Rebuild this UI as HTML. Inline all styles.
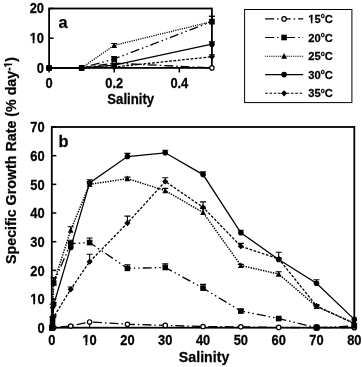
<!DOCTYPE html>
<html><head><meta charset="utf-8"><style>
html,body{margin:0;padding:0;background:#fff;width:362px;height:367px;overflow:hidden}
svg{display:block;will-change:transform}
text{font-family:"Liberation Sans", sans-serif;font-weight:bold;fill:#000;stroke:#000;stroke-width:0.25px}
</style></head><body>
<svg width="362" height="367" viewBox="0 0 362 367">
<rect x="49.1" y="8.5" width="162.80" height="59.40" fill="none" stroke="#000" stroke-width="1.8"/>
<path d="M49.1 67.90H53.60" stroke="#000" stroke-width="1.5"/>
<text transform="translate(44.00 72.50) scale(1 1.07)" font-size="12.9" text-anchor="end" >0</text>
<path d="M49.1 38.20H53.60" stroke="#000" stroke-width="1.5"/>
<g transform="translate(44.00 42.80) scale(1 1.07)"><text id="t1" font-size="12.9" text-anchor="end" >10</text><rect x="-14.22" y="-2.32" width="2.87" height="3.22" fill="#fff"/><rect x="-9.52" y="-2.32" width="2.48" height="3.22" fill="#fff"/></g>
<path d="M49.1 8.50H53.60" stroke="#000" stroke-width="1.5"/>
<text transform="translate(44.00 13.10) scale(1 1.07)" font-size="12.9" text-anchor="end" >20</text>
<path d="M49.10 67.9V72.40" stroke="#000" stroke-width="1.5"/>
<text transform="translate(49.10 87.70) scale(1 1.07)" font-size="12.9" text-anchor="middle" >0</text>
<path d="M114.22 67.9V72.40" stroke="#000" stroke-width="1.5"/>
<text transform="translate(114.22 87.70) scale(1 1.07)" font-size="12.9" text-anchor="middle" >0.2</text>
<path d="M179.34 67.9V72.40" stroke="#000" stroke-width="1.5"/>
<text transform="translate(179.34 87.70) scale(1 1.07)" font-size="12.9" text-anchor="middle" >0.4</text>
<text transform="translate(130.70 104.40) scale(1 1.07)" font-size="13.2" text-anchor="middle" >Salinity</text>
<text transform="translate(58.50 28.40) scale(1 1.0)" font-size="16.3" text-anchor="start" >a</text>
<polyline points="49.10,67.90 81.66,67.90 114.22,63.15 211.90,67.90" fill="none" stroke="#000" stroke-width="1.3" stroke-dasharray="9 3 1.5 3"/>
<circle cx="49.10" cy="67.90" r="2.20" fill="#fff" stroke="#000" stroke-width="1.2"/>
<circle cx="81.66" cy="67.90" r="2.20" fill="#fff" stroke="#000" stroke-width="1.2"/>
<circle cx="114.22" cy="63.15" r="2.20" fill="#fff" stroke="#000" stroke-width="1.2"/>
<circle cx="211.90" cy="67.90" r="2.20" fill="#fff" stroke="#000" stroke-width="1.2"/>
<polyline points="49.10,67.90 81.66,67.90 114.22,67.01 211.90,56.76" fill="none" stroke="#000" stroke-width="1.3" stroke-dasharray="2.7 1.6"/>
<path d="M211.90 54.83V56.76M208.90 54.83H214.90" stroke="#000" stroke-width="1.1" fill="none"/>
<path d="M49.10 64.80L52.20 67.90L49.10 71.00L46.00 67.90Z" fill="#000"/>
<path d="M81.66 64.80L84.76 67.90L81.66 71.00L78.56 67.90Z" fill="#000"/>
<path d="M114.22 63.91L117.32 67.01L114.22 70.11L111.12 67.01Z" fill="#000"/>
<path d="M211.90 53.66L215.00 56.76L211.90 59.86L208.80 56.76Z" fill="#000"/>
<polyline points="49.10,67.90 81.66,67.90 114.22,65.23 211.90,44.14" fill="none" stroke="#000" stroke-width="1.3"/>
<path d="M211.90 41.91V44.14M208.90 41.91H214.90" stroke="#000" stroke-width="1.1" fill="none"/>
<circle cx="49.10" cy="67.90" r="2.80" fill="#000"/>
<circle cx="81.66" cy="67.90" r="2.80" fill="#000"/>
<circle cx="114.22" cy="65.23" r="2.80" fill="#000"/>
<circle cx="211.90" cy="44.14" r="2.80" fill="#000"/>
<polyline points="49.10,67.90 81.66,67.90 114.22,58.99 211.90,21.57" fill="none" stroke="#000" stroke-width="1.3" stroke-dasharray="9 3 1.5 3 1.5 3"/>
<path d="M114.22 56.61V58.99M111.22 56.61H117.22" stroke="#000" stroke-width="1.1" fill="none"/>
<path d="M211.90 16.22V21.57M208.90 16.22H214.90" stroke="#000" stroke-width="1.1" fill="none"/>
<rect x="46.30" y="65.10" width="5.60" height="5.60" fill="#000"/>
<rect x="78.86" y="65.10" width="5.60" height="5.60" fill="#000"/>
<rect x="111.42" y="56.19" width="5.60" height="5.60" fill="#000"/>
<rect x="209.10" y="18.77" width="5.60" height="5.60" fill="#000"/>
<polyline points="49.10,67.90 81.66,67.90 114.22,45.33 211.90,21.57" fill="none" stroke="#000" stroke-width="1.3" stroke-dasharray="1.15 1.1"/>
<path d="M114.22 43.55V45.33M111.22 43.55H117.22" stroke="#000" stroke-width="1.1" fill="none"/>
<path d="M211.90 16.22V21.57M208.90 16.22H214.90" stroke="#000" stroke-width="1.1" fill="none"/>
<path d="M49.10 64.70L51.98 70.46L46.22 70.46Z" fill="#000"/>
<path d="M81.66 64.70L84.54 70.46L78.78 70.46Z" fill="#000"/>
<path d="M114.22 42.13L117.10 47.89L111.34 47.89Z" fill="#000"/>
<path d="M211.90 18.37L214.78 24.13L209.02 24.13Z" fill="#000"/>
<rect x="51.8" y="127.0" width="302.50" height="200.70" fill="none" stroke="#000" stroke-width="1.8"/>
<path d="M51.8 327.70H56.30" stroke="#000" stroke-width="1.5"/>
<path d="M51.8 299.03H56.30" stroke="#000" stroke-width="1.5"/>
<path d="M51.8 270.36H56.30" stroke="#000" stroke-width="1.5"/>
<path d="M51.8 241.69H56.30" stroke="#000" stroke-width="1.5"/>
<path d="M51.8 213.01H56.30" stroke="#000" stroke-width="1.5"/>
<path d="M51.8 184.34H56.30" stroke="#000" stroke-width="1.5"/>
<path d="M51.8 155.67H56.30" stroke="#000" stroke-width="1.5"/>
<path d="M51.8 127.00H56.30" stroke="#000" stroke-width="1.5"/>
<text transform="translate(44.60 332.90) scale(1 1.07)" font-size="12.9" text-anchor="end" >0</text>
<g transform="translate(44.60 304.23) scale(1 1.07)"><text id="t2" font-size="12.9" text-anchor="end" >10</text><rect x="-14.22" y="-2.32" width="2.87" height="3.22" fill="#fff"/><rect x="-9.52" y="-2.32" width="2.48" height="3.22" fill="#fff"/></g>
<text transform="translate(44.60 275.56) scale(1 1.07)" font-size="12.9" text-anchor="end" >20</text>
<text transform="translate(44.60 246.89) scale(1 1.07)" font-size="12.9" text-anchor="end" >30</text>
<text transform="translate(44.60 218.21) scale(1 1.07)" font-size="12.9" text-anchor="end" >40</text>
<text transform="translate(44.60 189.54) scale(1 1.07)" font-size="12.9" text-anchor="end" >50</text>
<text transform="translate(44.60 160.87) scale(1 1.07)" font-size="12.9" text-anchor="end" >60</text>
<text transform="translate(44.60 132.20) scale(1 1.07)" font-size="12.9" text-anchor="end" >70</text>
<text transform="translate(51.80 344.90) scale(1 1.07)" font-size="12.9" text-anchor="middle" >0</text>
<g transform="translate(89.61 344.90) scale(1 1.07)"><text id="t3" font-size="12.9" text-anchor="middle" >10</text><rect x="-7.05" y="-2.32" width="2.87" height="3.22" fill="#fff"/><rect x="-2.36" y="-2.32" width="2.48" height="3.22" fill="#fff"/></g>
<text transform="translate(127.42 344.90) scale(1 1.07)" font-size="12.9" text-anchor="middle" >20</text>
<text transform="translate(165.24 344.90) scale(1 1.07)" font-size="12.9" text-anchor="middle" >30</text>
<text transform="translate(203.05 344.90) scale(1 1.07)" font-size="12.9" text-anchor="middle" >40</text>
<text transform="translate(240.86 344.90) scale(1 1.07)" font-size="12.9" text-anchor="middle" >50</text>
<text transform="translate(278.68 344.90) scale(1 1.07)" font-size="12.9" text-anchor="middle" >60</text>
<text transform="translate(316.49 344.90) scale(1 1.07)" font-size="12.9" text-anchor="middle" >70</text>
<text transform="translate(354.30 344.90) scale(1 1.07)" font-size="12.9" text-anchor="middle" >80</text>
<text transform="translate(204.10 361.80) scale(1 1.07)" font-size="14.2" text-anchor="middle" >Salinity</text>
<text transform="translate(58.50 146.90) scale(1 1.02)" font-size="16.3" text-anchor="start" >b</text>
<polyline points="51.80,327.70 52.18,327.70 52.56,323.11 53.69,327.70 70.71,325.98 89.61,321.97 127.42,324.26 165.24,325.41 203.05,326.55 240.86,326.84 278.68,327.41 316.49,327.70 354.30,327.70" fill="none" stroke="#000" stroke-width="1.3" stroke-dasharray="9 3 1.5 3"/>
<path d="M89.61 321.97V327.70" stroke="#000" stroke-width="1.1"/>
<circle cx="51.80" cy="327.70" r="2.20" fill="#fff" stroke="#000" stroke-width="1.2"/>
<circle cx="52.18" cy="327.70" r="2.20" fill="#fff" stroke="#000" stroke-width="1.2"/>
<circle cx="52.56" cy="323.11" r="2.20" fill="#fff" stroke="#000" stroke-width="1.2"/>
<circle cx="53.69" cy="327.70" r="2.20" fill="#fff" stroke="#000" stroke-width="1.2"/>
<circle cx="70.71" cy="325.98" r="2.20" fill="#fff" stroke="#000" stroke-width="1.2"/>
<circle cx="89.61" cy="321.97" r="2.20" fill="#fff" stroke="#000" stroke-width="1.2"/>
<circle cx="127.42" cy="324.26" r="2.20" fill="#fff" stroke="#000" stroke-width="1.2"/>
<circle cx="165.24" cy="325.41" r="2.20" fill="#fff" stroke="#000" stroke-width="1.2"/>
<circle cx="203.05" cy="326.55" r="2.20" fill="#fff" stroke="#000" stroke-width="1.2"/>
<circle cx="240.86" cy="326.84" r="2.20" fill="#fff" stroke="#000" stroke-width="1.2"/>
<circle cx="278.68" cy="327.41" r="2.20" fill="#fff" stroke="#000" stroke-width="1.2"/>
<circle cx="316.49" cy="327.70" r="2.20" fill="#fff" stroke="#000" stroke-width="1.2"/>
<circle cx="354.30" cy="327.70" r="2.20" fill="#fff" stroke="#000" stroke-width="1.2"/>
<polyline points="51.80,327.70 52.18,327.70 52.56,319.10 53.69,282.97 70.71,243.69 89.61,242.55 127.42,268.35 165.24,267.49 203.05,288.13 240.86,311.07 278.68,318.53 316.49,327.70 354.30,325.98" fill="none" stroke="#000" stroke-width="1.3" stroke-dasharray="9 3 1.5 3 1.5 3"/>
<path d="M52.56 316.80V319.10M49.56 316.80H55.56" stroke="#000" stroke-width="1.1" fill="none"/>
<path d="M53.69 277.81V282.97M50.69 277.81H56.69" stroke="#000" stroke-width="1.1" fill="none"/>
<path d="M70.71 240.25V243.69M67.71 240.25H73.71" stroke="#000" stroke-width="1.1" fill="none"/>
<path d="M89.61 237.96V242.55M86.61 237.96H92.61" stroke="#000" stroke-width="1.1" fill="none"/>
<path d="M127.42 264.77V268.35M124.42 264.77H130.43" stroke="#000" stroke-width="1.1" fill="none"/>
<path d="M165.24 263.91V267.49M162.24 263.91H168.24" stroke="#000" stroke-width="1.1" fill="none"/>
<path d="M203.05 284.41V288.13M200.05 284.41H206.05" stroke="#000" stroke-width="1.1" fill="none"/>
<path d="M240.86 309.35V311.07M237.86 309.35H243.86" stroke="#000" stroke-width="1.1" fill="none"/>
<path d="M278.68 317.66V318.53M275.68 317.66H281.68" stroke="#000" stroke-width="1.1" fill="none"/>
<rect x="49.00" y="324.90" width="5.60" height="5.60" fill="#000"/>
<rect x="49.38" y="324.90" width="5.60" height="5.60" fill="#000"/>
<rect x="49.76" y="316.30" width="5.60" height="5.60" fill="#000"/>
<rect x="50.89" y="280.17" width="5.60" height="5.60" fill="#000"/>
<rect x="67.91" y="240.89" width="5.60" height="5.60" fill="#000"/>
<rect x="86.81" y="239.75" width="5.60" height="5.60" fill="#000"/>
<rect x="124.62" y="265.55" width="5.60" height="5.60" fill="#000"/>
<rect x="162.44" y="264.69" width="5.60" height="5.60" fill="#000"/>
<rect x="200.25" y="285.33" width="5.60" height="5.60" fill="#000"/>
<rect x="238.06" y="308.27" width="5.60" height="5.60" fill="#000"/>
<rect x="275.88" y="315.73" width="5.60" height="5.60" fill="#000"/>
<rect x="313.69" y="324.90" width="5.60" height="5.60" fill="#000"/>
<rect x="351.50" y="323.18" width="5.60" height="5.60" fill="#000"/>
<polyline points="51.80,327.70 52.18,327.70 52.56,305.91 53.69,282.97 70.71,230.22 89.61,184.34 127.42,178.61 165.24,190.65 203.05,212.44 240.86,265.48 278.68,274.08 316.49,306.48 354.30,323.11" fill="none" stroke="#000" stroke-width="1.45" stroke-dasharray="1.4 1.15"/>
<path d="M52.56 304.19V305.91M49.56 304.19H55.56" stroke="#000" stroke-width="1.1" fill="none"/>
<path d="M53.69 277.81V282.97M50.69 277.81H56.69" stroke="#000" stroke-width="1.1" fill="none"/>
<path d="M70.71 226.78V230.22M67.71 226.78H73.71" stroke="#000" stroke-width="1.1" fill="none"/>
<path d="M89.61 181.76V184.34M86.61 181.76H92.61" stroke="#000" stroke-width="1.1" fill="none"/>
<path d="M127.42 177.17V178.61M124.42 177.17H130.43" stroke="#000" stroke-width="1.1" fill="none"/>
<path d="M165.24 188.36V190.65M162.24 188.36H168.24" stroke="#000" stroke-width="1.1" fill="none"/>
<path d="M203.05 208.43V212.44M200.05 208.43H206.05" stroke="#000" stroke-width="1.1" fill="none"/>
<path d="M240.86 264.34V265.48M237.86 264.34H243.86" stroke="#000" stroke-width="1.1" fill="none"/>
<path d="M278.68 271.79V274.08M275.68 271.79H281.68" stroke="#000" stroke-width="1.1" fill="none"/>
<path d="M316.49 305.62V306.48M313.49 305.62H319.49" stroke="#000" stroke-width="1.1" fill="none"/>
<path d="M51.80 324.50L54.68 330.26L48.92 330.26Z" fill="#000"/>
<path d="M52.18 324.50L55.06 330.26L49.30 330.26Z" fill="#000"/>
<path d="M52.56 302.71L55.44 308.47L49.68 308.47Z" fill="#000"/>
<path d="M53.69 279.77L56.57 285.53L50.81 285.53Z" fill="#000"/>
<path d="M70.71 227.02L73.59 232.78L67.83 232.78Z" fill="#000"/>
<path d="M89.61 181.14L92.49 186.90L86.73 186.90Z" fill="#000"/>
<path d="M127.42 175.41L130.31 181.17L124.55 181.17Z" fill="#000"/>
<path d="M165.24 187.45L168.12 193.21L162.36 193.21Z" fill="#000"/>
<path d="M203.05 209.24L205.93 215.00L200.17 215.00Z" fill="#000"/>
<path d="M240.86 262.28L243.74 268.04L237.98 268.04Z" fill="#000"/>
<path d="M278.68 270.88L281.56 276.64L275.80 276.64Z" fill="#000"/>
<path d="M316.49 303.28L319.37 309.04L313.61 309.04Z" fill="#000"/>
<path d="M354.30 319.91L357.18 325.67L351.42 325.67Z" fill="#000"/>
<polyline points="51.80,327.70 52.18,327.70 52.56,326.84 53.69,316.95 70.71,289.28 89.61,261.76 127.42,223.05 165.24,181.48 203.05,207.28 240.86,246.27 278.68,258.89 316.49,305.91 354.30,323.69" fill="none" stroke="#000" stroke-width="1.3" stroke-dasharray="2.7 1.6"/>
<path d="M53.69 315.08V316.95M50.69 315.08H56.69" stroke="#000" stroke-width="1.1" fill="none"/>
<path d="M70.71 286.99V289.28M67.71 286.99H73.71" stroke="#000" stroke-width="1.1" fill="none"/>
<path d="M89.61 254.30V261.76M86.61 254.30H92.61" stroke="#000" stroke-width="1.1" fill="none"/>
<path d="M127.42 216.17V223.05M124.42 216.17H130.43" stroke="#000" stroke-width="1.1" fill="none"/>
<path d="M165.24 177.75V181.48M162.24 177.75H168.24" stroke="#000" stroke-width="1.1" fill="none"/>
<path d="M203.05 201.83V207.28M200.05 201.83H206.05" stroke="#000" stroke-width="1.1" fill="none"/>
<path d="M240.86 243.41V246.27M237.86 243.41H243.86" stroke="#000" stroke-width="1.1" fill="none"/>
<path d="M278.68 252.29V258.89M275.68 252.29H281.68" stroke="#000" stroke-width="1.1" fill="none"/>
<path d="M316.49 304.48V305.91M313.49 304.48H319.49" stroke="#000" stroke-width="1.1" fill="none"/>
<path d="M51.80 324.60L54.90 327.70L51.80 330.80L48.70 327.70Z" fill="#000"/>
<path d="M52.18 324.60L55.28 327.70L52.18 330.80L49.08 327.70Z" fill="#000"/>
<path d="M52.56 323.74L55.66 326.84L52.56 329.94L49.46 326.84Z" fill="#000"/>
<path d="M53.69 313.85L56.79 316.95L53.69 320.05L50.59 316.95Z" fill="#000"/>
<path d="M70.71 286.18L73.81 289.28L70.71 292.38L67.61 289.28Z" fill="#000"/>
<path d="M89.61 258.66L92.71 261.76L89.61 264.86L86.51 261.76Z" fill="#000"/>
<path d="M127.42 219.95L130.53 223.05L127.42 226.15L124.33 223.05Z" fill="#000"/>
<path d="M165.24 178.38L168.34 181.48L165.24 184.58L162.14 181.48Z" fill="#000"/>
<path d="M203.05 204.18L206.15 207.28L203.05 210.38L199.95 207.28Z" fill="#000"/>
<path d="M240.86 243.17L243.96 246.27L240.86 249.37L237.76 246.27Z" fill="#000"/>
<path d="M278.68 255.79L281.78 258.89L278.68 261.99L275.57 258.89Z" fill="#000"/>
<path d="M316.49 302.81L319.59 305.91L316.49 309.01L313.39 305.91Z" fill="#000"/>
<path d="M354.30 320.59L357.40 323.69L354.30 326.79L351.20 323.69Z" fill="#000"/>
<polyline points="51.80,327.70 52.18,327.70 52.56,325.12 53.69,304.76 70.71,247.42 89.61,182.91 127.42,156.53 165.24,152.80 203.05,174.59 240.86,232.80 278.68,259.46 316.49,283.26 354.30,319.39" fill="none" stroke="#000" stroke-width="1.3"/>
<path d="M53.69 302.61V304.76M50.69 302.61H56.69" stroke="#000" stroke-width="1.1" fill="none"/>
<path d="M89.61 179.76V182.91M86.61 179.76H92.61" stroke="#000" stroke-width="1.1" fill="none"/>
<path d="M127.42 153.38V156.53M124.42 153.38H130.43" stroke="#000" stroke-width="1.1" fill="none"/>
<path d="M165.24 150.22V152.80M162.24 150.22H168.24" stroke="#000" stroke-width="1.1" fill="none"/>
<path d="M203.05 171.87V174.59M200.05 171.87H206.05" stroke="#000" stroke-width="1.1" fill="none"/>
<path d="M240.86 230.22V232.80M237.86 230.22H243.86" stroke="#000" stroke-width="1.1" fill="none"/>
<path d="M278.68 257.74V259.46M275.68 257.74H281.68" stroke="#000" stroke-width="1.1" fill="none"/>
<path d="M316.49 279.82V283.26M313.49 279.82H319.49" stroke="#000" stroke-width="1.1" fill="none"/>
<circle cx="51.80" cy="327.70" r="2.80" fill="#000"/>
<circle cx="52.18" cy="327.70" r="2.80" fill="#000"/>
<circle cx="52.56" cy="325.12" r="2.80" fill="#000"/>
<circle cx="53.69" cy="304.76" r="2.80" fill="#000"/>
<circle cx="70.71" cy="247.42" r="2.80" fill="#000"/>
<circle cx="89.61" cy="182.91" r="2.80" fill="#000"/>
<circle cx="127.42" cy="156.53" r="2.80" fill="#000"/>
<circle cx="165.24" cy="152.80" r="2.80" fill="#000"/>
<circle cx="203.05" cy="174.59" r="2.80" fill="#000"/>
<circle cx="240.86" cy="232.80" r="2.80" fill="#000"/>
<circle cx="278.68" cy="259.46" r="2.80" fill="#000"/>
<circle cx="316.49" cy="283.26" r="2.80" fill="#000"/>
<circle cx="354.30" cy="319.39" r="2.80" fill="#000"/>
<circle cx="316.69" cy="327.40" r="3.3" fill="#000"/>
<g transform="translate(16.2 264.0) rotate(-90)"><text id="t4" font-size="14.25" text-anchor="start">Specific Growth Rate (% day<tspan font-size="10.2" dy="-4.4">-1</tspan><tspan dy="4.4">)</tspan></text><rect x="196.55" y="-6.44" width="2.41" height="2.94" fill="#fff"/><rect x="200.42" y="-6.44" width="2.06" height="2.94" fill="#fff"/></g>
<rect x="244.6" y="9.5" width="107.3" height="93.1" fill="none" stroke="#000" stroke-width="1"/>
<path d="M265.1 18.9H303.2" stroke="#000" stroke-width="1.1" stroke-dasharray="9 3 1.5 3"/>
<circle cx="284.10" cy="18.90" r="2.20" fill="#fff" stroke="#000" stroke-width="1.2"/>
<g transform="translate(308.3 22.90) scale(1 1.05)"><text id="t5" font-size="11.2">15<tspan font-size="6.6" dy="-4.3">o</tspan><tspan dy="4.3">C</tspan></text><rect x="0.01" y="-2.14" width="2.58" height="3.04" fill="#fff"/><rect x="4.18" y="-2.14" width="2.22" height="3.04" fill="#fff"/></g>
<path d="M265.1 37.5H303.2" stroke="#000" stroke-width="1.1" stroke-dasharray="9 3 1.5 3 1.5 3"/>
<rect x="281.30" y="34.70" width="5.60" height="5.60" fill="#000"/>
<text transform="translate(308.3 41.50) scale(1 1.05)" font-size="11.2">20<tspan font-size="6.6" dy="-4.3">o</tspan><tspan dy="4.3">C</tspan></text>
<path d="M265.1 56.2H303.2" stroke="#000" stroke-width="1.1" stroke-dasharray="1 0.85"/>
<path d="M284.10 53.00L286.98 58.76L281.22 58.76Z" fill="#000"/>
<text transform="translate(308.3 60.20) scale(1 1.05)" font-size="11.2">25<tspan font-size="6.6" dy="-4.3">o</tspan><tspan dy="4.3">C</tspan></text>
<path d="M265.1 74.6H303.2" stroke="#000" stroke-width="1.1"/>
<circle cx="284.10" cy="74.60" r="2.80" fill="#000"/>
<text transform="translate(308.3 78.60) scale(1 1.05)" font-size="11.2">30<tspan font-size="6.6" dy="-4.3">o</tspan><tspan dy="4.3">C</tspan></text>
<path d="M265.1 93.3H303.2" stroke="#000" stroke-width="1.1" stroke-dasharray="2.7 1.6"/>
<path d="M284.10 90.20L287.20 93.30L284.10 96.40L281.00 93.30Z" fill="#000"/>
<text transform="translate(308.3 97.30) scale(1 1.05)" font-size="11.2">35<tspan font-size="6.6" dy="-4.3">o</tspan><tspan dy="4.3">C</tspan></text>
</svg>
</body></html>
